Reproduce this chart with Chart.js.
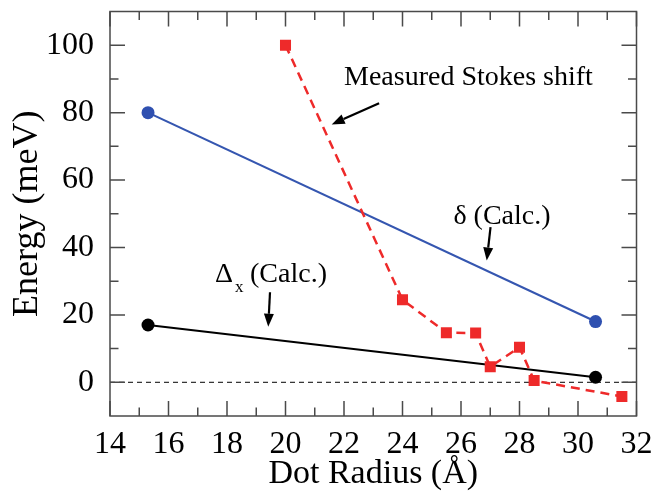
<!DOCTYPE html>
<html><head><meta charset="utf-8">
<script src="https://cdn.jsdelivr.net/npm/chart.js@4/dist/chart.umd.min.js"></script>
<style>html,body{margin:0;padding:0;background:#fff}</style>
</head><body>
<canvas id="c" width="655" height="491"></canvas>
<script>
// ---- data ----
const xTicks = [14,16,18,20,22,24,26,28,30,32];
const xMinor = [15,17,19,21,23,25,27,29,31];
const yTicks = [0,20,40,60,80,100];
const yMinor = [10,30,50,70,90];

const stokesX = [20, 24, 25.5, 26.5, 27, 28, 28.5, 31.5];
const stokesY = [100, 24.5, 14.7, 14.6, 4.6, 10.4, 0.5, -4.2];

const deltaX = [15.3, 30.6];
const deltaY = [80, 18];

const deltaXcX = [15.3, 30.6];
const deltaXcY = [17, 1.5];

const zeroX = [14, 32];
const zeroY = [0, 0];

const pts = (xs, ys) => xs.map((x, i) => ({x, y: ys[i]}));

const FONT = '"Liberation Serif", "Times New Roman", serif';

const framePlugin = {
  id: 'frame',
  afterDatasetsDraw(chart) {
    const {ctx, scales: {x, y}} = chart;
    const L = x.getPixelForValue(14), R = x.getPixelForValue(32);
    const T = y.getPixelForValue(110), B = y.getPixelForValue(-10);
    ctx.save();
    ctx.strokeStyle = '#4a4a4a';
    ctx.lineWidth = 1.5;
    ctx.strokeRect(L, T, R - L, B - T);
    const major = 15, minor = 8.5;
    ctx.beginPath();
    const xt = (v, len) => { const p = x.getPixelForValue(v);
      ctx.moveTo(p, B); ctx.lineTo(p, B - len);
      ctx.moveTo(p, T); ctx.lineTo(p, T + len); };
    const yt = (v, len) => { const p = y.getPixelForValue(v);
      ctx.moveTo(L, p); ctx.lineTo(L + len, p);
      ctx.moveTo(R, p); ctx.lineTo(R - len, p); };
    xTicks.forEach(v => xt(v, major)); xMinor.forEach(v => xt(v, minor));
    yTicks.forEach(v => yt(v, major)); yMinor.forEach(v => yt(v, minor));
    ctx.stroke();

    // annotations
    const P = (dx, dy) => [x.getPixelForValue(dx), y.getPixelForValue(dy)];
    ctx.fillStyle = '#000';
    ctx.textBaseline = 'alphabetic';
    ctx.textAlign = 'left';
    ctx.font = '28px ' + FONT;
    let q = P(22.0, 88.3); ctx.fillText('Measured Stokes shift', q[0], q[1]);
    q = P(25.74, 47.1); ctx.fillText('δ (Calc.)', q[0], q[1]);
    q = P(17.59, 29.9); ctx.fillText('Δ', q[0], q[1]);
    ctx.fillText('(Calc.)', q[0] + 35, q[1]);
    ctx.font = '17px ' + FONT;
    ctx.fillText('x', q[0] + 20, q[1] + 10.5);

    const arrow = (x1, y1, x2, y2) => {
      const [a1, b1] = P(x1, y1), [a2, b2] = P(x2, y2);
      const ang = Math.atan2(b2 - b1, a2 - a1);
      const hl = 13, hw = 5;
      const bx = a2 - hl * Math.cos(ang), by = b2 - hl * Math.sin(ang);
      ctx.strokeStyle = '#000'; ctx.lineWidth = 2.2;
      ctx.beginPath(); ctx.moveTo(a1, b1); ctx.lineTo(bx, by); ctx.stroke();
      ctx.beginPath();
      ctx.moveTo(a2, b2);
      ctx.lineTo(bx + hw * Math.sin(ang), by - hw * Math.cos(ang));
      ctx.lineTo(bx - hw * Math.sin(ang), by + hw * Math.cos(ang));
      ctx.closePath(); ctx.fill();
    };
    arrow(23.2, 82.8, 21.58, 76.5);
    arrow(27.01, 46.0, 26.88, 36.1);
    arrow(19.47, 26.7, 19.41, 16.5);
    ctx.restore();
  }
};

const noPad = s => { s.paddingTop = 0; s.paddingBottom = 0; s.paddingLeft = 0; s.paddingRight = 0; };

new Chart(document.getElementById('c'), {
  type: 'line',
  data: {
    datasets: [
      { data: pts(stokesX, stokesY), borderColor: '#ee2a2a', backgroundColor: '#ee2a2a',
        borderWidth: 2.5, borderDash: [9, 6], pointStyle: 'rect', pointRadius: 7.8,
        pointBorderWidth: 0, tension: 0 },
      { data: pts(deltaX, deltaY), borderColor: '#3556b0', backgroundColor: '#2f50b0',
        borderWidth: 2.2, pointRadius: 6.5, pointBorderWidth: 0 },
      { data: pts(deltaXcX, deltaXcY), borderColor: '#000', backgroundColor: '#000',
        borderWidth: 2.2, pointRadius: 6.5, pointBorderWidth: 0 },
      { data: pts(zeroX, zeroY), borderColor: '#000', borderWidth: 1,
        borderDash: [5, 4], pointRadius: 0 }
    ]
  },
  options: {
    responsive: false,
    animation: false,
    devicePixelRatio: 1,
    layout: { padding: { top: 11.5, right: 18.5, left: 0, bottom: 0 } },
    plugins: { legend: { display: false }, tooltip: { enabled: false } },
    elements: { line: { fill: false } },
    scales: {
      x: {
        type: 'linear', min: 14, max: 32, position: 'bottom',
        grid: { display: false }, border: { display: false },
        afterBuildTicks: s => { s.ticks = xTicks.map(v => ({value: v})); },
        afterFit: s => { s.height = 75; noPad(s); },
        ticks: { font: { family: FONT, size: 32 }, color: '#000', padding: 1, maxRotation: 0 },
        title: { display: true, text: 'Dot Radius (Å)', color: '#000',
          font: { family: FONT, size: 34, lineHeight: 1 }, padding: { top: 0, bottom: 0 } }
      },
      y: {
        type: 'linear', min: -10, max: 110,
        grid: { display: false }, border: { display: false },
        afterBuildTicks: s => { s.ticks = yTicks.map(v => ({value: v})); },
        afterFit: s => { s.width = 110; noPad(s); },
        ticks: { font: { family: FONT, size: 32 }, color: '#000', padding: 8 },
        title: { display: true, text: 'Energy (meV)', color: '#000',
          font: { family: FONT, size: 36, lineHeight: 1.2 }, padding: { top: 6, bottom: 0 } }
      }
    }
  },
  plugins: [framePlugin]
});
</script>
</body></html>
